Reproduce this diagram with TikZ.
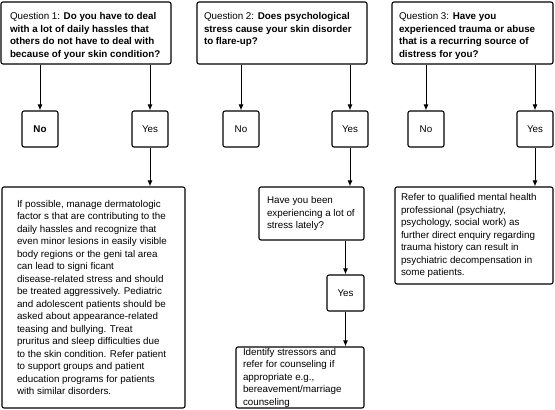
\documentclass[tikz,border=0pt]{standalone}
\usepackage{fontspec}
\setmainfont{Liberation Sans}
\usetikzlibrary{arrows.meta}
\newcommand\topbx[3]{\begin{minipage}[c][#1][t]{#2}\raggedright #3\end{minipage}}
\newcommand\midbx[2]{\begin{minipage}{#1}\raggedright #2\end{minipage}}
\begin{document}
\begin{tikzpicture}[x=1pt,y=-1pt,
  font=\fontsize{9.8}{12.5}\selectfont,
  bx/.style={draw, line width=1.1pt, rounded corners=2pt, inner sep=0pt, anchor=center},
  qbox/.style={bx, minimum height=62pt},
  yn/.style={bx, minimum width=36pt, minimum height=36pt},
  arr/.style={line width=1pt, -{Latex[length=6pt,width=5pt]}}]
\useasboundingbox (0,0) rectangle (555,410);
% questions
\node[qbox, minimum width=170pt] (q1) at (86,33)
  {\topbx{41pt}{152pt}{Question 1: \textbf{Do you have to deal}\\
   \textbf{with a lot of daily hassles that}\\
   \textbf{others do not have to deal with}\\
   \textbf{because of your skin condition?}}};
\node[qbox, minimum width=170pt] (q2) at (282,33)
  {\topbx{41pt}{156pt}{Question 2: \textbf{Does psychological}\\
   \textbf{stress cause your skin disorder}\\
   \textbf{to flare-up?}}};
\node[qbox, minimum width=161pt] (q3) at (472.5,33)
  {\topbx{41pt}{147pt}{Question 3: \textbf{Have you}\\
   \textbf{experienced trauma or abuse}\\
   \textbf{that is a recurring source of}\\
   \textbf{distress for you?}}};
% yes / no
\node[yn] (n1) at (40,129) {\textbf{No}};
\node[yn] (y1) at (150,129) {Yes};
\node[yn] (n2) at (241,129) {No};
\node[yn] (y2) at (350,129) {Yes};
\node[yn] (n3) at (426,129) {No};
\node[yn] (y3) at (535,129) {Yes};
% answers
\node[bx, minimum width=183pt, minimum height=221pt] (a1) at (93.5,297.5)
  {\midbx{153pt}{If possible, manage dermatologic\\
   factor s that are contributing to the\\
   daily hassles and recognize that\\
   even minor lesions in easily visible\\
   body regions or the geni tal area\\
   can lead to signi ficant\\
   disease-related stress and should\\
   be treated aggressively. Pediatric\\
   and adolescent patients should be\\
   asked about appearance-related\\
   teasing and bullying. Treat\\
   pruritus and sleep difficulties due\\
   to the skin condition. Refer patient\\
   to support groups and patient\\
   education programs for patients\\
   with similar disorders.}};
\node[bx, minimum width=105pt, minimum height=53pt] (a2) at (311.5,213.5)
  {\midbx{89pt}{Have you been\\ experiencing a lot of\\ stress lately?}};
\node[yn, minimum width=37pt] (y2b) at (345.5,293) {Yes};
\node[bx, minimum width=128pt, minimum height=61pt] (a2b) at (300,377.5)
  {\midbx{114pt}{Identify stressors and\\ refer for counseling if\\ appropriate e.g.,\\ bereavement/marriage\\ counseling}};
\node[bx, minimum width=158pt, minimum height=97pt] (a3) at (474,235.5)
  {\midbx{146pt}{Refer to qualified mental health\\
   professional (psychiatry,\\
   psychology, social work) as\\
   further direct enquiry regarding\\
   trauma history can result in\\
   psychiatric decompensation in\\
   some patients.}};
% connectors
\draw[arr] (n1 |- q1.south) -- (n1.north);
\draw[arr] (y1 |- q1.south) -- (y1.north);
\draw[arr] (n2 |- q2.south) -- (n2.north);
\draw[arr] (y2 |- q2.south) -- (y2.north);
\draw[arr] (n3 |- q3.south) -- (n3.north);
\draw[arr] (y3 |- q3.south) -- (y3.north);
\draw[arr] (y1.south) -- (y1.south |- a1.north);
\draw[arr] (y2.south) -- (y2.south |- a2.north);
\draw[arr] (y3.south) -- (y3.south |- a3.north);
\draw[arr] (y2b |- a2.south) -- (y2b.north);
\draw[arr] (y2b.south) -- (y2b.south |- a2b.north);
\end{tikzpicture}
\end{document}
